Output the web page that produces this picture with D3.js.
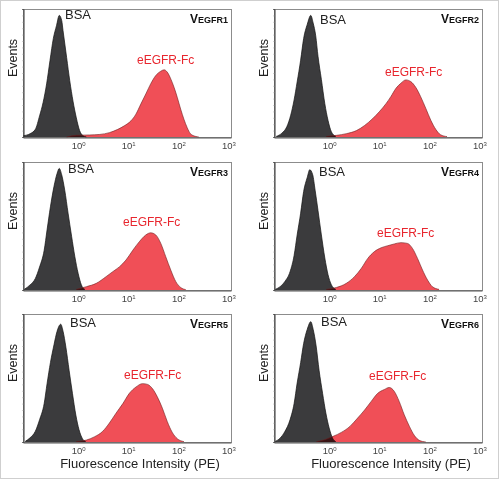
<!DOCTYPE html>
<html>
<head>
<meta charset="utf-8">
<script src="https://cdn.jsdelivr.net/npm/d3@7"></script>
<style>
	body { margin: 0; background: #fff; }
	svg { display: block; }
	text { font-family: "Liberation Sans", Arial, Helvetica, sans-serif; }
</style>
</head>
<body>
<script>
//panel names
let panelNames = ["VEGFR1", "VEGFR2", "VEGFR3", "VEGFR4", "VEGFR5", "VEGFR6"];
let tickValues = [1, 10, 100, 1000];
let tickExponents = ["0", "1", "2", "3"];

//histograms as [fluorescence intensity, events in % of the plot height]
let bsa1 = [[0.081, 1], [0.11, 2.6], [0.14, 6], [0.17, 16.5], [0.20, 27], [0.235, 41.5], [0.275, 60], [0.32, 77], [0.37, 87], [0.42, 95], [0.47, 91], [0.50, 83], [0.59, 62], [0.68, 44], [0.79, 28], [0.92, 15], [1.07, 5], [1.25, 1], [1.46, 0]];
let egfr1 = [[0.59, 0], [0.92, 1.3], [1.7, 1.6], [2.7, 2], [4.2, 3.4], [6.2, 6], [8.3, 8.7], [11.3, 12.6], [14.2, 17.8], [17.8, 25.7], [22.4, 33.6], [28, 41.5], [35.4, 48], [44.6, 51.4], [52, 52.5], [60, 50.7], [70.5, 45.4], [82, 38.8], [95, 31], [111, 21.8], [129, 13.9], [150, 7.3], [174, 2.6], [219, 0.5], [256, 0]];

let bsa2 = [[0.088, 0.5], [0.114, 3], [0.143, 8], [0.171, 17], [0.20, 29], [0.23, 43], [0.27, 60], [0.31, 77], [0.366, 88], [0.43, 95], [0.48, 89], [0.54, 79], [0.60, 63], [0.70, 45], [0.82, 26], [0.95, 13], [1.11, 4], [1.35, 0.5]];
let egfr2 = [[0.88, 0.5], [1.4, 1.3], [2.2, 2.6], [3.5, 5], [5.1, 9], [7.4, 14.4], [10, 19.7], [13.6, 26], [17, 31.5], [21.5, 38], [27, 42], [34, 44.6], [42.5, 43.3], [53.5, 38.8], [67, 31.5], [85, 22.3], [107, 13], [135, 5.8], [167, 1.8], [225, 0.3]];

let bsa3 = [[0.084, 0.5], [0.11, 4], [0.14, 9], [0.17, 18], [0.21, 31], [0.24, 47], [0.28, 65], [0.33, 81], [0.38, 91], [0.42, 95], [0.47, 90], [0.54, 78], [0.63, 60], [0.74, 42], [0.86, 26], [1.0, 13], [1.16, 4], [1.35, 0.5]];
let egfr3 = [[0.92, 0.5], [1.46, 2.6], [2.3, 5.2], [3.6, 10.4], [4.9, 14.3], [6.7, 18.2], [9.0, 23.4], [12.3, 31], [16.6, 37.7], [22.4, 43], [28, 44.7], [35.4, 43], [44.6, 36.4], [56, 26], [70.5, 15.6], [89, 6.5], [111, 2], [140, 0.3]];

let bsa4 = [[0.084, 0.5], [0.105, 2.6], [0.13, 6.5], [0.166, 14.3], [0.20, 27], [0.23, 43], [0.27, 60], [0.31, 77], [0.366, 88], [0.41, 94], [0.47, 90], [0.525, 78], [0.60, 62], [0.70, 43], [0.82, 25], [0.95, 12], [1.11, 4], [1.35, 0.5]];
let egfr4 = [[0.88, 0.5], [1.4, 2], [2.2, 5.2], [3.2, 10.4], [4.4, 17], [5.9, 24.7], [8.0, 30], [10.9, 33], [14.8, 34.6], [20, 36], [27, 37], [36.5, 36.4], [46, 32.5], [58, 24.7], [73, 15.6], [92, 7.8], [115, 2.6], [156, 0.5]];

let bsa5 = [[0.088, 0.5], [0.11, 3.3], [0.14, 8.4], [0.17, 17.4], [0.21, 30], [0.24, 45.6], [0.28, 62], [0.33, 76], [0.38, 86.5], [0.45, 92], [0.50, 86.5], [0.57, 74], [0.66, 56], [0.77, 38], [0.90, 21], [1.04, 9.7], [1.22, 2.6], [1.41, 0.3]];
let egfr5 = [[0.92, 0.3], [1.46, 1.5], [2.1, 4], [3.1, 8.4], [4.2, 14.8], [5.7, 22.5], [7.8, 30], [10.5, 38], [14.3, 43], [19.3, 45.6], [24.2, 45], [30.4, 41.7], [38, 35.3], [48, 26.4], [60, 16], [75, 7.7], [95, 2.6], [129, 0.3]];

let bsa6 = [[0.084, 0.5], [0.105, 3], [0.13, 8], [0.166, 17.4], [0.20, 30], [0.23, 46], [0.27, 62], [0.31, 77], [0.366, 88], [0.43, 94], [0.48, 88], [0.55, 75], [0.63, 56], [0.74, 38], [0.86, 22.6], [1.0, 11], [1.17, 3], [1.35, 0.3]];
let egfr6 = [[0.56, 0.3], [0.82, 1.8], [1.2, 4.4], [1.75, 7.5], [2.6, 12.2], [3.7, 18.7], [5.1, 25], [6.9, 31.7], [9.3, 38], [12.6, 41], [15.8, 42.6], [20, 39.5], [25, 31.7], [31.5, 21.3], [40, 12.2], [50, 5.2], [63, 1.3], [85, 0]];

let bsaData = [bsa1, bsa2, bsa3, bsa4, bsa5, bsa6];
let egfrData = [egfr1, egfr2, egfr3, egfr4, egfr5, egfr6];

//layout
let svg = d3.select("body").append("svg")
	.attr("width", 500)
	.attr("height", 480);

svg.append("rect") //light frame round the whole figure
	.attr("x", 0.5).attr("y", 0.5)
	.attr("width", 498).attr("height", 478)
	.attr("fill", "none")
	.attr("stroke", "#cfcfcf");

let colX = [23, 274];
let rowY = [9, 162, 314];
let pw = 208, ph = 128;

//label spots inside each panel (baseline)
let bsaPos = [[42, 10], [46, 15], [45, 11], [45, 14], [47, 13], [47, 12]];
let egfrPos = [[114, 55], [111, 67], [100, 64], [103, 75], [101, 65], [95, 66]];

let x = d3.scaleLog()
	.domain([0.0794, 1122]) //10^-1.1 .. 10^3.05
	.range([0, pw]);

let y = d3.scaleLinear()
	.domain([0, 100])
	.range([ph, 0]);

let area = d3.area()
	.x(d => x(d[0]))
	.y0(ph)
	.y1(d => y(d[1]))
	.curve(d3.curveMonotoneX);

let line = d3.line()
	.x(d => x(d[0]))
	.y(d => y(d[1]))
	.curve(d3.curveMonotoneX);

panelNames.forEach(function(name, i) {
	let col = i % 2, row = Math.floor(i / 2);
	let g = svg.append("g")
		.attr("transform", `translate(${colX[col]}, ${rowY[row]})`);

	g.append("rect") //panel frame
		.attr("x", 0.5).attr("y", 0.5)
		.attr("width", pw).attr("height", ph)
		.attr("fill", "none")
		.attr("stroke", "#8c8c8c");

	//BSA histogram
	g.append("path")
		.attr("d", area(bsaData[i]))
		.attr("fill", "#3b3b3d");
	g.append("path")
		.attr("d", line(bsaData[i]))
		.attr("fill", "none")
		.attr("stroke", "#111")
		.attr("stroke-width", 0.7);

	//eEGFR-Fc histogram
	g.append("path")
		.attr("d", area(egfrData[i]))
		.attr("fill", "#f04f57")
		.style("mix-blend-mode", "multiply");
	g.append("path")
		.attr("d", line(egfrData[i]))
		.attr("fill", "none")
		.attr("stroke", "#6e1c1c")
		.attr("stroke-width", 0.6);

	//y axis, no labels, just the tiny ticks
	let yG = g.append("g")
		.attr("transform", "translate(0.5, 0)")
		.call(d3.axisLeft(y).ticks(25).tickSize(1.5).tickFormat(""));
	yG.select(".domain").attr("stroke", "#333");
	yG.selectAll(".tick line").attr("stroke", "#aaa").attr("stroke-width", 0.5);

	//x axis
	let xG = g.append("g")
		.attr("transform", `translate(0, ${ph + 0.5})`)
		.call(d3.axisBottom(x).tickValues(tickValues).tickSize(0).tickPadding(5).tickFormat(""));
	xG.select(".domain").attr("stroke", "#555");
	xG.selectAll(".tick text")
		.attr("font-size", 9.5)
		.attr("fill", "#444")
		.each(function(d, j) {
			let t = d3.select(this);
			t.append("tspan").text("10");
			t.append("tspan").attr("dy", -3.5).attr("font-size", 6).text(tickExponents[j]);
		});

	g.append("text") //y axis label
		.attr("transform", `translate(-6, 49) rotate(-90)`)
		.attr("text-anchor", "middle")
		.attr("font-size", 12.5)
		.attr("fill", "#222")
		.text("Events");

	g.append("text")
		.attr("x", bsaPos[i][0]).attr("y", bsaPos[i][1])
		.attr("font-size", 13)
		.attr("fill", "#222")
		.text("BSA");

	g.append("text")
		.attr("x", egfrPos[i][0]).attr("y", egfrPos[i][1])
		.attr("font-size", 12)
		.attr("fill", "#e8262e")
		.text("eEGFR-Fc");

	let title = g.append("text") //V big, the rest small
		.attr("x", pw - 3).attr("y", 14)
		.attr("text-anchor", "end")
		.attr("font-weight", "bold")
		.attr("fill", "#111");
	title.append("tspan").attr("font-size", 12).text(name[0]);
	title.append("tspan").attr("font-size", 9).text(name.slice(1));

	if (row == 2) {
		g.append("text") //x axis label on the bottom row only
			.attr("x", 117).attr("y", 154)
			.attr("text-anchor", "middle")
			.attr("font-size", 13)
			.attr("fill", "#222")
			.text("Fluorescence Intensity (PE)");
	}
});
</script>
</body>
</html>
